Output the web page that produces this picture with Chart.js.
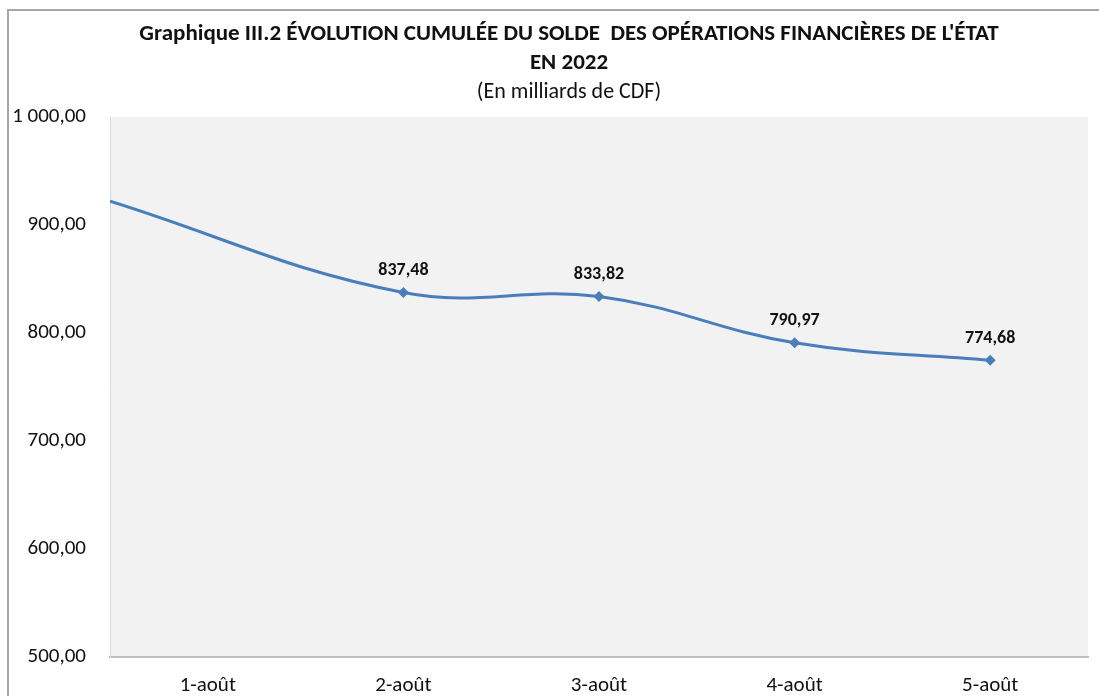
<!DOCTYPE html>
<html>
<head>
<meta charset="utf-8">
<script src="https://cdn.jsdelivr.net/npm/chart.js@4.4.1/dist/chart.umd.min.js"></script>
<style>
  html, body { margin: 0; padding: 0; background: #fff; overflow: hidden; }
  #frame {
    position: absolute; left: 7px; top: 9px;
    width: 1124px; height: 690px;
    border-left: 2px solid #a6a6a6; border-top: 2px solid #a6a6a6;
    background: #fff;
  }
</style>
</head>
<body>
<div id="frame"><canvas id="soldeChart" width="1124" height="690"></canvas></div>
<script>
// Solde cumulé des opérations financières de l'État, août 2022 (milliards de CDF)
const categories  = ['1-août', '2-août', '3-août', '4-août', '5-août']
const soldeValues = [null, 837.48, 833.82, 790.97, 774.68]   // 1-août: no marker / label shown
const edgeValue   = 922                                       // where the line enters at the left border
const yTicks      = [500, 600, 700, 800, 900, 1000]
const titleLines  = ["Graphique III.2 ÉVOLUTION CUMULÉE DU SOLDE  DES OPÉRATIONS FINANCIÈRES DE L'ÉTAT", 'EN 2022']
const subtitle    = '(En milliards de CDF)'

const FONT = "Calibri, Carlito, Lato, sans-serif"
const LINE = '#4a7ebb'

function fmt(v) {
  const [i, d] = v.toFixed(2).split('.')
  return i.replace(/\B(?=(\d{3})+(?!\d))/g, ' ') + ',' + d
}

const points = [{ x: 0.5, y: edgeValue }]
categories.forEach((c, i) => {
  if (soldeValues[i] != null) points.push({ x: i + 1, y: soldeValues[i] })
})

// titles: the original frame is wider than the visible crop, so centre on the full frame
const titles = {
  id: 'titles',
  afterDraw(chart) {
    const { ctx } = chart
    const cx = chart.width / 2 - 2
    ctx.save()
    ctx.fillStyle = '#111'
    ctx.textAlign = 'center'
    ctx.textBaseline = 'middle'
    ctx.font = 'bold 23px ' + FONT
    titleLines.forEach((t, i) => ctx.fillText(t, cx, 23.5 + i * 29))
    ctx.font = '22px ' + FONT
    ctx.fillText(subtitle, cx, 81)
    ctx.restore()
  }
}

// plot area background
const plotBg = {
  id: 'plotBg',
  beforeDraw(chart) {
    const { ctx, chartArea: a } = chart
    ctx.save()
    ctx.fillStyle = '#f2f2f2'
    ctx.fillRect(a.left, a.top, a.right - a.left, a.bottom - a.top)
    ctx.restore()
  }
}

// value labels above the markers
const valueLabels = {
  id: 'valueLabels',
  afterDatasetsDraw(chart) {
    const { ctx } = chart
    const meta = chart.getDatasetMeta(0)
    ctx.save()
    ctx.font = 'bold 18px ' + FONT
    ctx.fillStyle = '#111'
    ctx.textAlign = 'center'
    ctx.textBaseline = 'middle'
    meta.data.forEach((el, i) => {
      if (i === 0) return
      ctx.fillText(fmt(points[i].y), el.x, el.y - 22)
    })
    ctx.restore()
  }
}

new Chart(document.getElementById('soldeChart'), {
  type: 'line',
  data: {
    datasets: [{
      data: points,
      borderColor: LINE,
      backgroundColor: LINE,
      borderWidth: 3,
      tension: 0.4,
      pointStyle: 'rectRot',
      pointRadius: points.map((p, i) => i === 0 ? 0 : 5.5),
      pointBorderWidth: 0,
      clip: 0,
    }]
  },
  options: {
    responsive: false,
    animation: false,
    layout: { padding: { left: 0, right: 45, top: 106, bottom: 0 } },
    plugins: {
      legend: { display: false },
      tooltip: { enabled: false },
      title: { display: false },
    },
    scales: {
      x: {
        type: 'linear',
        min: 0.5, max: 5.5,
        afterBuildTicks: s => { s.ticks = categories.map((c, i) => ({ value: i + 1 })) },
        afterFit: s => { s.height = 44 },
        ticks: {
          callback: v => categories[v - 1] ?? '',
          color: '#111',
          font: { family: FONT, size: 21 },
          padding: 16,
          maxRotation: 0,
        },
        grid: { display: false, drawTicks: false },
        border: { color: '#bfbfbf', width: 2 },
      },
      y: {
        min: 500, max: 1000,
        afterBuildTicks: s => { s.ticks = yTicks.map(v => ({ value: v })) },
        afterFit: s => { s.width = 101 },
        ticks: {
          callback: v => fmt(v),
          color: '#111',
          font: { family: FONT, size: 21 },
          padding: 24,
        },
        grid: { display: false, drawTicks: false },
        border: { color: '#d9d9d9', width: 1 },
      },
    },
  },
  plugins: [plotBg, valueLabels, titles],
})
</script>
</body>
</html>
